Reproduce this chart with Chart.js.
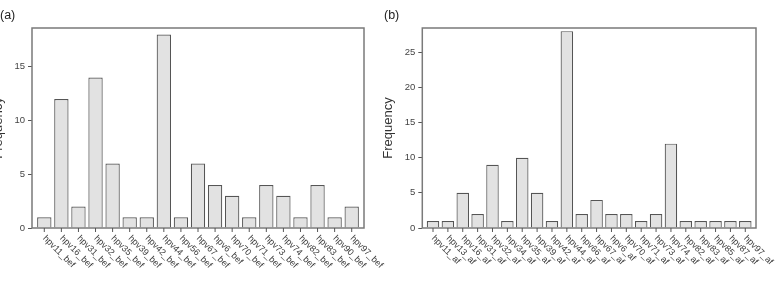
<!DOCTYPE html>
<html>
<head>
<meta charset="utf-8">
<script src="https://cdn.jsdelivr.net/npm/chart.js@4.4.0/dist/chart.umd.min.js"></script>
<style>
  body { margin: 0; background: #fff; width: 776px; height: 281px; overflow: hidden; position: relative; }
  canvas { position: absolute; top: 0; }
  #chartA { left: -10px; }
  #chartB { left: 380px; }
</style>
</head>
<body>
<canvas id="chartA" width="410" height="281"></canvas>
<canvas id="chartB" width="396" height="281"></canvas>
<script>
// panel (a): before
const labelsBef = ['hpv11_bef', 'hpv16_bef', 'hpv31_bef', 'hpv32_bef', 'hpv35_bef', 'hpv39_bef', 'hpv42_bef',
  'hpv44_bef', 'hpv56_bef', 'hpv67_bef', 'hpv6_bef', 'hpv70_bef', 'hpv71_bef', 'hpv73_bef', 'hpv74_bef',
  'hpv82_bef', 'hpv83_bef', 'hpv90_bef', 'hpv97_bef'];
const countsBef = [1, 12, 2, 14, 6, 1, 1, 18, 1, 6, 4, 3, 1, 4, 3, 1, 4, 1, 2];
const ticksBef = [0, 5, 10, 15];

// panel (b): after
const labelsAf = ['hpv11_af', 'hpv13_af', 'hpv16_af', 'hpv31_af', 'hpv32_af', 'hpv34_af', 'hpv35_af', 'hpv39_af',
  'hpv42_af', 'hpv44_af', 'hpv66_af', 'hpv67_af', 'hpv6_af', 'hpv70_af', 'hpv71_af', 'hpv73_af', 'hpv74_af',
  'hpv82_af', 'hpv83_af', 'hpv85_af', 'hpv87_af', 'hpv97_af'];
const countsAf = [1, 1, 5, 2, 9, 1, 10, 5, 1, 28, 2, 4, 2, 2, 1, 2, 12, 1, 1, 1, 1, 1];
const ticksAf = [0, 5, 10, 15, 20, 25];

const FONT = '"Liberation Sans", Arial, sans-serif';

// box frame, x tick marks and slanted labels (R-style barplot)
const framePlugin = {
  id: 'frame',
  afterDraw(chart, args, opts) {
    const ctx = chart.ctx;
    const a = chart.chartArea;
    const xs = chart.scales.x;
    ctx.save();
    ctx.strokeStyle = '#7a7a7a';
    ctx.lineWidth = 1.5;
    ctx.strokeRect(a.left, a.top, a.right - a.left, a.bottom - a.top);

    ctx.strokeStyle = '#555';
    ctx.lineWidth = 1;
    ctx.fillStyle = '#3c3c3c';
    ctx.font = '9px ' + FONT;
    ctx.textAlign = 'left';
    ctx.textBaseline = 'middle';
    opts.labels.forEach((lab, i) => {
      const x = xs.getPixelForValue(i);
      ctx.beginPath();
      ctx.moveTo(x, a.bottom);
      ctx.lineTo(x, a.bottom + 4);
      ctx.stroke();
      ctx.save();
      ctx.translate(x, a.bottom + 9);
      ctx.rotate(Math.PI / 4);
      ctx.fillText(lab, 0, 0);
      ctx.restore();
    });

    ctx.fillStyle = '#222';
    ctx.font = '12.5px ' + FONT;
    ctx.textBaseline = 'middle';
    ctx.fillText(opts.tag, opts.tagX, 16);
    ctx.restore();
  }
};

function makeChart(id, labels, counts, ticks, yMax, axisWidth, padRight, tag, tagX) {
  const n = labels.length;
  return new Chart(document.getElementById(id), {
    type: 'bar',
    data: {
      datasets: [{
        data: counts.map((v, i) => ({ x: i, y: v })),
        backgroundColor: '#e2e2e2',
        borderColor: '#555',
        borderWidth: 1.2,
        barPercentage: 0.84,
        categoryPercentage: 1
      }]
    },
    options: {
      responsive: false,
      animation: false,
      layout: { padding: { top: 28, bottom: 53, right: padRight, left: 0 } },
      plugins: {
        legend: { display: false },
        tooltip: { enabled: false },
        frame: { labels: labels, tag: tag, tagX: tagX }
      },
      scales: {
        x: {
          type: 'linear',
          display: false,
          offset: false,
          min: -0.72,
          max: n - 1 + 0.72
        },
        y: {
          min: 0,
          max: yMax,
          afterFit(scale) { scale.width = axisWidth; },
          afterBuildTicks(scale) { scale.ticks = ticks.map(v => ({ value: v })); },
          border: { display: false },
          grid: { drawOnChartArea: false, drawTicks: true, tickLength: 4, color: '#555', lineWidth: 1 },
          ticks: { color: '#444', padding: 3, font: { size: 9.5, family: FONT } },
          title: {
            display: true,
            text: 'Frequency',
            color: '#333',
            padding: { top: 1, bottom: 0 },
            font: { size: 13, family: FONT }
          }
        }
      }
    },
    plugins: [framePlugin]
  });
}

makeChart('chartA', labelsBef, countsBef, ticksBef, 18.6, 42, 36, '(a)', 10);
makeChart('chartB', labelsAf, countsAf, ticksAf, 28.45, 42.3, 20, '(b)', 4);
</script>
</body>
</html>
